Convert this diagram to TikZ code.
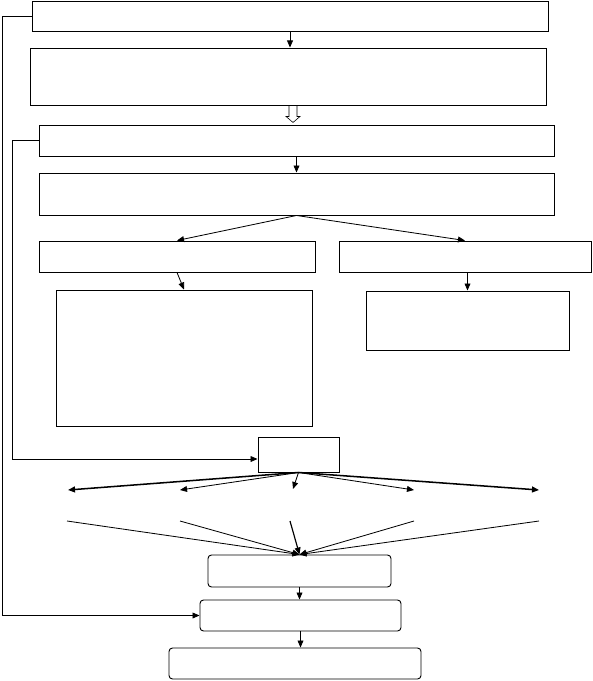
\documentclass[tikz,border=0pt]{standalone}
\usepackage{tikz}
\usetikzlibrary{arrows.meta,calc}

\begin{document}
\begin{tikzpicture}[
  x=0.03cm,y=-0.03cm,
  blk/.style={draw,line width=0.8pt,inner sep=0pt},
  rblk/.style={blk,rounded corners=3pt},
  arr/.style={-{Triangle[length=6pt,width=5pt]},line width=0.7pt},
  warr/.style={arr,line width=1.3pt},
]
\useasboundingbox (0,0) rectangle (592,681);

\node[blk,minimum width=15.48cm,minimum height=0.9cm] (top) at (290,16) {};
\node[blk,minimum width=15.48cm,minimum height=1.71cm] (desc) at (288,76.5) {};
\node[blk,minimum width=15.45cm,minimum height=0.93cm] (plan) at (296.5,140.5) {};
\node[blk,minimum width=15.45cm,minimum height=1.26cm] (split) at (296.5,194) {};
\node[blk,minimum width=8.28cm,minimum height=0.93cm] (left) at (177,256.5) {};
\node[blk,minimum width=7.56cm,minimum height=0.93cm] (right) at (465,256.5) {};
\node[blk,minimum width=7.68cm,minimum height=4.08cm] (ldet) at (184,358) {};
\node[blk,minimum width=6.09cm,minimum height=1.77cm] (rdet) at (467.5,320.5) {};
\node[blk,minimum width=2.43cm,minimum height=1.05cm] (hub) at (298.5,454.5) {};
\node[rblk,minimum width=5.49cm,minimum height=0.96cm] (merge) at (299.5,571) {};
\node[rblk,minimum width=6.03cm,minimum height=0.93cm] (check) at (300.5,615.5) {};
\node[rblk,minimum width=7.56cm,minimum height=0.93cm] (final) at (295,663.5) {};

% free ends of the fan
\coordinate (o1) at (68,490);
\coordinate (o2) at (180,490);
\coordinate (o3) at (293,489);
\coordinate (o4) at (414,490);
\coordinate (o5) at (539,490);
\coordinate (i1) at (67,521);
\coordinate (i2) at (180,521);
\coordinate (i3) at (290,521);
\coordinate (i4) at (414,521);
\coordinate (i5) at (539,521);

\draw[arr] (top.south) -- (top.south |- desc.north);
% hollow block arrow
\draw[line width=0.5pt,shift={(desc.south)}] (1,0) -- (1,11) -- (-2,11) -- (5,17)
  -- (12,11) -- (9,11) -- (9,0);
\draw[arr] (plan) -- (split);
\draw[arr] (split.south) -- (left.north);
\draw[arr] (split.south) -- (right.north);
\draw[arr] (left.south) -- (ldet.north);
\draw[arr] (rdet.north |- right.south) -- (rdet.north);

\draw[arr] (top.west) -- ++(-29,0) |- (check.west);
\draw[arr] (plan.west) -- ++(-26,0) |- ($(hub.west)+(0,4.5)$);

\draw[warr] (hub.south) -- (o1);
\draw[arr] (hub.south) -- (o2);
\draw[arr] (hub.south) -- (o3);
\draw[arr] (hub.south) -- (o4);
\draw[warr] (hub.south) -- (o5);

\draw[arr] (i1) -- (merge.north);
\draw[arr] (i2) -- (merge.north);
\draw[arr,line width=1pt] (i3) -- (merge.north);
\draw[arr] (i4) -- (merge.north);
\draw[arr] (i5) -- (merge.north);

\draw[arr] (merge) -- (merge |- check.north);
\draw[arr] (check.south) -- (check.south |- final.north);

\end{tikzpicture}
\end{document}
